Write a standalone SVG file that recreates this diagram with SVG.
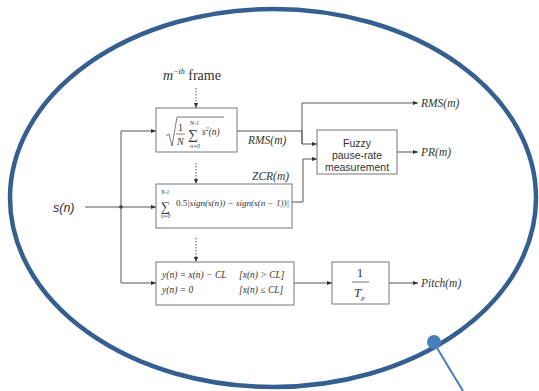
<svg xmlns="http://www.w3.org/2000/svg" width="539" height="391" viewBox="0 0 539 391">
<defs>
<marker id="ah" viewBox="0 0 6 6" refX="6" refY="3" markerWidth="5" markerHeight="5" orient="auto">
<path d="M0,0.5 L6,3 L0,5.5 z" fill="#333"/>
</marker>
<style>
.box{fill:#fff;stroke:#777;stroke-width:1}
.ln{fill:none;stroke:#555;stroke-width:1}
.dot{fill:none;stroke:#555;stroke-width:1;stroke-dasharray:1.5 1.5}
.i{font-style:italic}
text{fill:#333}
</style>
</defs>
<rect width="539" height="391" fill="#fff"/>
<ellipse cx="273" cy="198" rx="263" ry="189" fill="none" stroke="#365f91" stroke-width="4.5"/>
<g id="callout">
<line x1="434" y1="343" x2="463" y2="391" stroke="#4a7ebb" stroke-width="2"/>
<circle cx="434" cy="342" r="7" fill="#4a7ebb"/>
</g>
<g id="connectors">
<line class="dot" x1="196" y1="88" x2="196" y2="108" marker-end="url(#ah)"/>
<line class="dot" x1="196" y1="163" x2="196" y2="184" marker-end="url(#ah)"/>
<line class="dot" x1="196" y1="238" x2="196" y2="262" marker-end="url(#ah)"/>
<line class="ln" x1="85" y1="207" x2="156" y2="207" marker-end="url(#ah)"/>
<circle cx="121" cy="207" r="1.8" fill="#333"/>
<polyline class="ln" points="121,283 121,131 156,131" marker-end="url(#ah)"/>
<line class="ln" x1="121" y1="283" x2="156" y2="283" marker-end="url(#ah)"/>
<polyline class="ln" points="237,131 302,131"/>
<polyline class="ln" points="302,144 302,103 418,103" marker-end="url(#ah)"/>
<polyline class="ln" points="302,131 302,144 317,144" marker-end="url(#ah)"/>
<polyline class="ln" points="292,202 303,202 303,159 317,159" marker-end="url(#ah)"/>
<line class="ln" x1="397" y1="152" x2="418" y2="152" marker-end="url(#ah)"/>
<line class="ln" x1="294" y1="283" x2="332" y2="283" marker-end="url(#ah)"/>
<line class="ln" x1="389" y1="283" x2="418" y2="283" marker-end="url(#ah)"/>
</g>
<g font-family="Liberation Serif, serif">
<g id="frame-label">
<text x="163" y="80" font-size="14"><tspan class="i">m</tspan><tspan class="i" font-size="8" dy="-6">−th</tspan><tspan dy="6"> frame</tspan></text>
</g>
<g id="rms-box">
<rect class="box" x="156" y="108" width="81" height="44"/>
<polyline points="166,136 169,134 172,146 177,117 224,117" fill="none" stroke="#555" stroke-width="0.8"/>
<text x="178" y="131" font-size="10">1</text>
<line x1="176" y1="134" x2="185" y2="134" stroke="#555" stroke-width="0.7"/>
<text x="177" y="145" class="i" font-size="10">N</text>
<text x="188" y="139" font-size="14">∑</text>
<text x="190" y="125" class="i" font-size="6">N-1</text>
<text x="190" y="148" class="i" font-size="6">n=0</text>
<text x="202" y="135" class="i" font-size="9.5">s<tspan font-size="6" dy="-4">2</tspan><tspan dy="4">(n)</tspan></text>
</g>
<text x="248" y="144" class="i" font-size="11.5">RMS(m)</text>
<g id="zcr-box">
<rect class="box" x="156" y="184" width="136" height="44"/>
<text x="161" y="211" font-size="13">∑</text>
<text x="161" y="194" class="i" font-size="5.5">N-1</text>
<text x="161" y="218" class="i" font-size="5.5">n=0</text>
<text x="176" y="206" class="i" font-size="9" textLength="113" lengthAdjust="spacingAndGlyphs"><tspan style="font-style:normal">0.5</tspan>|sign(s(n)) − sign(s(n − 1))|</text>
</g>
<text x="252" y="180" class="i" font-size="11.5">ZCR(m)</text>
<g id="clip-box">
<rect class="box" x="156" y="262" width="138" height="43"/>
<text x="162" y="278" class="i" font-size="9.5">y(n) = x(n) − CL</text>
<text x="239" y="278" class="i" font-size="9.5">[x(n) &gt; CL]</text>
<text x="162" y="293" class="i" font-size="9.5">y(n) = 0</text>
<text x="239" y="293" class="i" font-size="9.5">[x(n) ≤ CL]</text>
</g>
<g id="period-box">
<rect class="box" x="332" y="262" width="57" height="42"/>
<text x="360" y="277" font-size="13" text-anchor="middle">1</text>
<line x1="352" y1="282" x2="369" y2="282" stroke="#555" stroke-width="0.8"/>
<text x="354" y="297" class="i" font-size="13">T<tspan font-size="7" dy="3">p</tspan></text>
</g>
<g id="outputs">
<text x="421" y="107" class="i" font-size="11.5">RMS(m)</text>
<text x="421" y="156" class="i" font-size="11.5">PR(m)</text>
<text x="421" y="287" class="i" font-size="11.5">Pitch(m)</text>
</g>
</g>
<g font-family="Liberation Sans, Arial, sans-serif">
<g id="input">
<text x="53" y="212" class="i" font-size="12.5">s(n)</text>
</g>
<g id="fuzzy-box">
<rect class="box" x="317" y="130" width="80" height="44"/>
<text x="357" y="147" font-size="10.5" text-anchor="middle">Fuzzy</text>
<text x="357" y="159" font-size="10.5" text-anchor="middle">pause-rate</text>
<text x="357" y="171" font-size="10.5" text-anchor="middle">measurement</text>
</g>
</g>
</svg>
